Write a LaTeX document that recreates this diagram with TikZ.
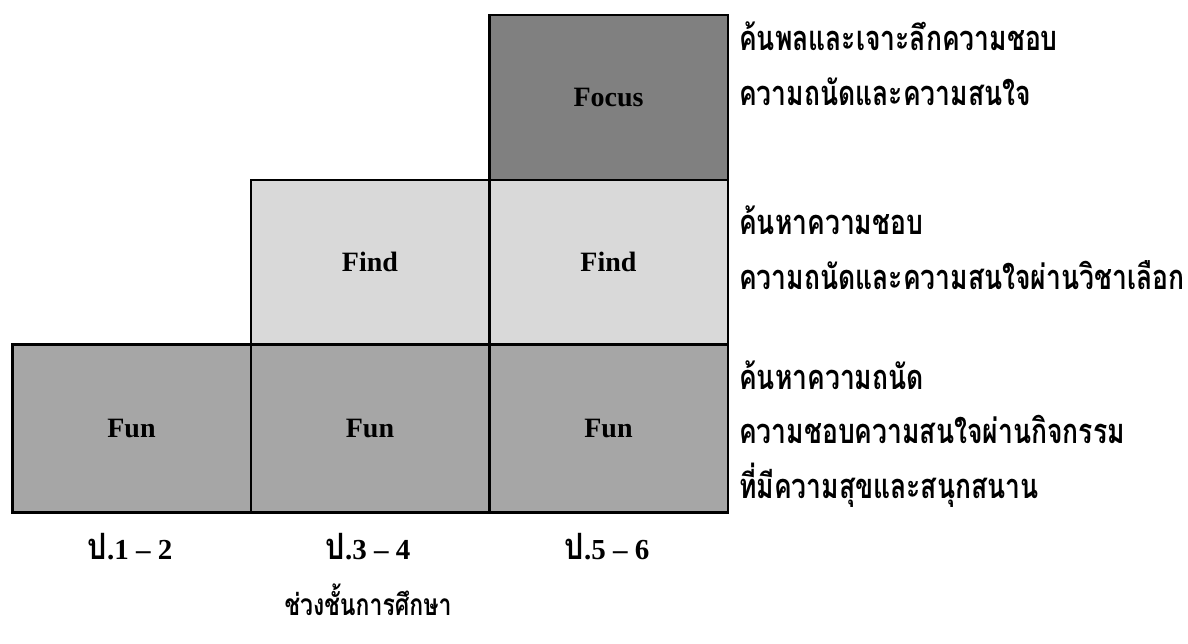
\documentclass[tikz,border=0pt]{standalone}
\usepackage{graphicx}
\usepackage{fontspec}
\setmainfont{Liberation Serif}
\newfontfamily\thai[Script=Thai]{Loma}
\newcommand{\tallthai}[1]{\scalebox{1}[1.3]{#1}}
\newcommand{\pthai}{{\thai\scalebox{1.05}[1.25]{ป}}}
\definecolor{focusgray}{HTML}{808080}
\definecolor{findgray}{HTML}{D9D9D9}
\definecolor{fungray}{HTML}{A6A6A6}
\begin{document}
\begin{tikzpicture}[x=1pt,y=-1pt,
  cell/.style={draw=black,line width=2.5pt,anchor=north west,inner sep=0pt,
    minimum width=238.5pt,font=\bfseries\fontsize{28}{28}\selectfont},
  desc/.style={anchor=base west,inner sep=0pt,font=\thai\bfseries\fontsize{26.5}{26.5}\selectfont},
  lab/.style={anchor=base,inner sep=0pt,font=\bfseries\fontsize{29}{29}\selectfont}]
\useasboundingbox (0,0) rectangle (1188,644);
% cells
\node[cell,minimum height=165pt,fill=focusgray] (focus) at (488,14) {Focus};
\node[cell,minimum height=164pt,fill=findgray] (findB) at (249.5,179) {Find};
\node[cell,minimum height=164pt,fill=findgray] (findC) at (488,179) {Find};
\node[cell,minimum height=168pt,fill=fungray] (funA) at (11,343) {Fun};
\node[cell,minimum height=168pt,fill=fungray] (funB) at (249.5,343) {Fun};
\node[cell,minimum height=168pt,fill=fungray] (funC) at (488,343) {Fun};
% descriptions
\node[desc] (d1) at (739,51) {\tallthai{ค้นพลและเจาะลึกความชอบ}};
\node[desc] (d2) at (739,106) {\tallthai{ความถนัดและความสนใจ}};
\node[desc] (d3) at (739,235) {\tallthai{ค้นหาความชอบ}};
\node[desc] (d4) at (739,290) {\tallthai{ความถนัดและความสนใจผ่านวิชาเลือก}};
\node[desc] (d5) at (739,389) {\tallthai{ค้นหาความถนัด}};
\node[desc] (d6) at (739,443) {\tallthai{ความชอบความสนใจผ่านกิจกรรม}};
\node[desc] (d7) at (739,498) {\tallthai{ที่มีความสุขและสนุกสนาน}};
% grade labels
\node[lab] (g1) at (130,559) {\pthai.1 – 2};
\node[lab] (g2) at (368,559) {\pthai.3 – 4};
\node[lab] (g3) at (607,559) {\pthai.5 – 6};
\node[lab,font=\thai\bfseries\fontsize{23}{23}\selectfont] (title) at (368,615) {\tallthai{ช่วงชั้นการศึกษา}};
\end{tikzpicture}
\end{document}
